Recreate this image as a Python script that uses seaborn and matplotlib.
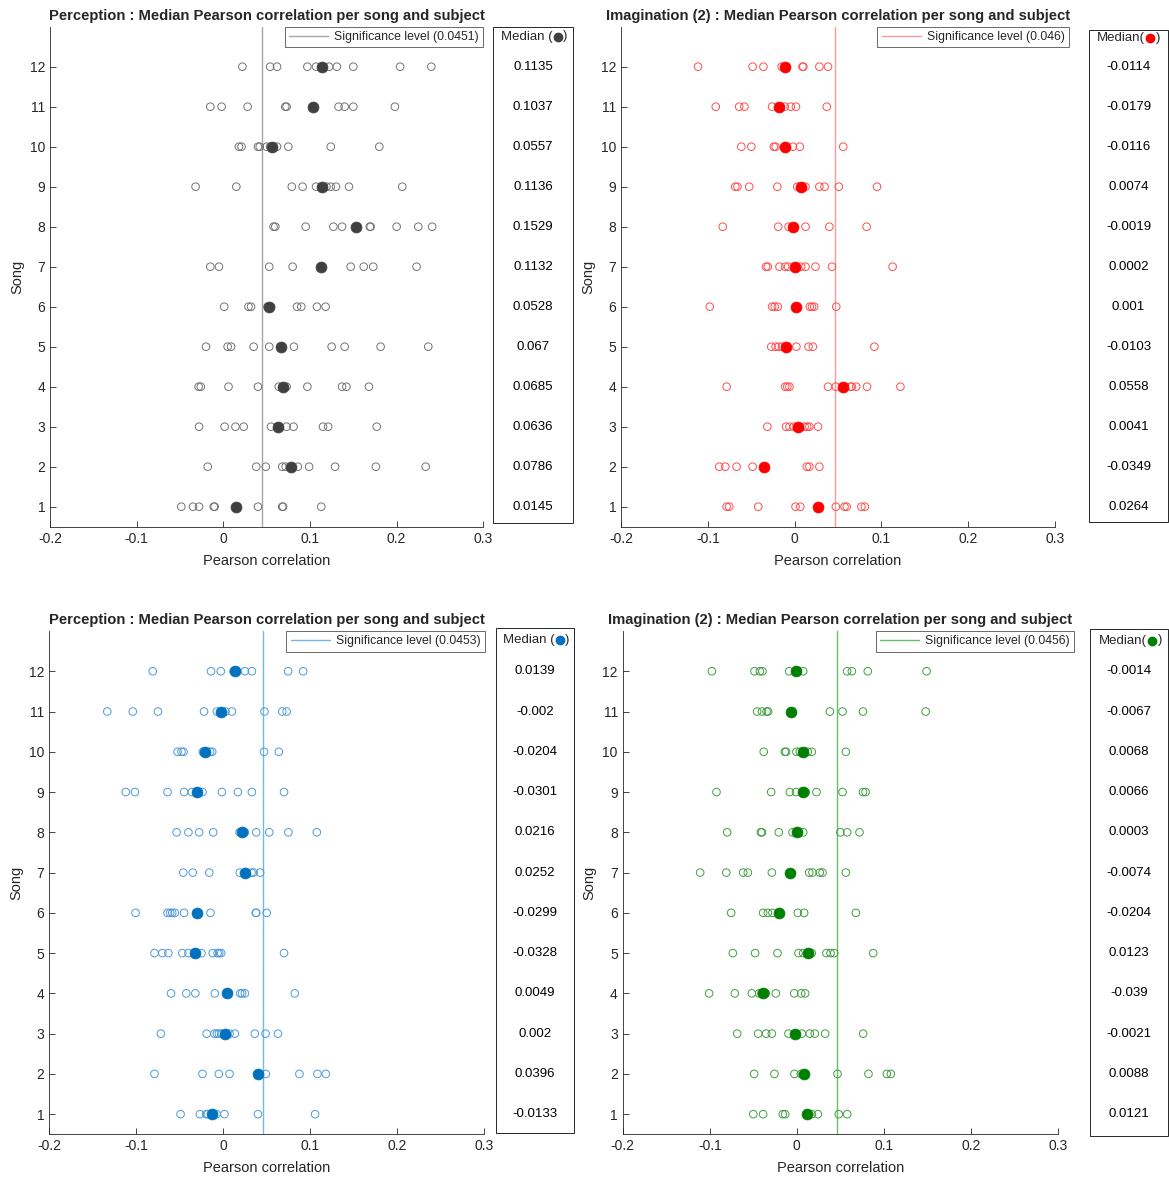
import pandas as pd
import seaborn as sns
import matplotlib
matplotlib.use("Agg")
from matplotlib import pyplot as plt
from matplotlib.transforms import blended_transform_factory
from matplotlib.patches import Rectangle
from matplotlib.lines import Line2D

songs = list(range(1, 13))

# subject correlations per song (song 1 .. 12)
perc_a_subjects = [
    [-0.0485, -0.035, -0.028, -0.011, -0.010, 0.040, 0.068, 0.069, 0.113],
    [-0.018, 0.038, 0.049, 0.068, 0.072, 0.086, 0.099, 0.129, 0.176, 0.2335],
    [-0.028, 0.0015, 0.014, 0.0235, 0.055, 0.073, 0.081, 0.115, 0.121, 0.177],
    [-0.0285, -0.026, 0.006, 0.040, 0.064, 0.073, 0.097, 0.137, 0.142, 0.168],
    [-0.020, 0.005, 0.009, 0.035, 0.053, 0.0815, 0.125, 0.140, 0.1815, 0.2365],
    [0.001, 0.029, 0.032, 0.051, 0.055, 0.085, 0.090, 0.108, 0.118],
    [-0.015, -0.005, 0.053, 0.080, 0.147, 0.162, 0.173, 0.223],
    [0.058, 0.060, 0.095, 0.127, 0.137, 0.169, 0.170, 0.200, 0.225, 0.241],
    [-0.032, 0.015, 0.079, 0.0915, 0.107, 0.119, 0.124, 0.130, 0.145, 0.2065],
    [0.018, 0.021, 0.040, 0.042, 0.050, 0.054, 0.062, 0.075, 0.124, 0.180],
    [-0.015, -0.002, 0.028, 0.0715, 0.073, 0.133, 0.140, 0.150, 0.198],
    [0.022, 0.054, 0.062, 0.097, 0.107, 0.122, 0.131, 0.150, 0.204, 0.240],
]
perc_a_medians = [0.0145, 0.0786, 0.0636, 0.0685, 0.067, 0.0528,
                  0.1132, 0.1529, 0.1136, 0.0557, 0.1037, 0.1135]
perc_a_sig = 0.0451

imag_a_subjects = [
    [-0.0785, -0.0755, -0.042, 0.001, 0.0065, 0.0475, 0.0575, 0.060, 0.077, 0.081],
    [-0.087, -0.080, -0.067, -0.0485, 0.014, 0.017, 0.0285],
    [-0.0315, -0.010, -0.006, -0.001, 0.0115, 0.0145, 0.017, 0.027],
    [-0.0785, -0.011, -0.0085, -0.006, 0.0385, 0.0475, 0.0645, 0.066, 0.071, 0.0835, 0.122],
    [-0.027, -0.022, -0.0185, -0.0145, 0.002, 0.016, 0.021, 0.092],
    [-0.098, -0.026, -0.023, -0.0195, 0.0175, 0.020, 0.0225, 0.048],
    [-0.033, -0.031, -0.0175, -0.011, -0.0075, 0.0075, 0.0125, 0.024, 0.043, 0.113],
    [-0.083, -0.019, -0.007, 0.0125, 0.040, 0.083],
    [-0.0685, -0.066, -0.0525, -0.020, 0.003, 0.0125, 0.0285, 0.0345, 0.051, 0.095],
    [-0.0615, -0.050, -0.024, -0.022, -0.002, 0.006, 0.056],
    [-0.091, -0.064, -0.058, -0.026, -0.0115, -0.0045, 0.0015, 0.037],
    [-0.1115, -0.0485, -0.036, -0.015, 0.009, 0.010, 0.0285, 0.0385],
]
imag_a_medians = [0.0264, -0.0349, 0.0041, 0.0558, -0.0103, 0.001,
                  0.0002, -0.0019, 0.0074, -0.0116, -0.0179, -0.0114]
imag_a_sig = 0.046

perc_b_subjects = [
    [-0.049, -0.0268, -0.0195, -0.0176, -0.0077, 0.0015, 0.040, 0.1057],
    [-0.079, -0.0238, -0.005, 0.0073, 0.049, 0.0877, 0.1084, 0.118],
    [-0.0716, -0.019, -0.010, -0.0073, -0.005, -0.0023, 0.0073, 0.0134, 0.0364, 0.0487, 0.063],
    [-0.060, -0.0425, -0.032, -0.0096, 0.0195, 0.0218, 0.025, 0.0824],
    [-0.079, -0.070, -0.063, -0.047, -0.040, -0.0249, -0.012, -0.0065, -0.0046, -0.0023, 0.070],
    [-0.1008, -0.064, -0.061, -0.0586, -0.0556, -0.045, -0.0146, 0.0375, 0.038, 0.050],
    [-0.046, -0.035, -0.016, 0.019, 0.0326, 0.035, 0.0425],
    [-0.0536, -0.040, -0.0276, -0.0115, 0.0188, 0.025, 0.038, 0.053, 0.075, 0.1077],
    [-0.112, -0.1015, -0.064, -0.045, -0.036, -0.0238, -0.0015, 0.0169, 0.033, 0.070],
    [-0.0525, -0.048, -0.0456, -0.0234, -0.015, -0.0126, 0.047, 0.064],
    [-0.1333, -0.104, -0.075, -0.022, -0.0073, 0.0027, 0.010, 0.0475, 0.068, 0.073],
    [-0.081, -0.014, -0.0027, 0.012, 0.025, 0.033, 0.0747, 0.092],
]
perc_b_medians = [-0.0133, 0.0396, 0.002, 0.0049, -0.0328, -0.0299,
                  0.0252, 0.0216, -0.0301, -0.0204, -0.002, 0.0139]
perc_b_sig = 0.0453

imag_b_subjects = [
    [-0.050, -0.0387, -0.0161, -0.0134, 0.0172, 0.0241, 0.0482, 0.0578],
    [-0.049, -0.0257, -0.0027, 0.0046, 0.0467, 0.0823, 0.1034, 0.108],
    [-0.0685, -0.0444, -0.0352, -0.0287, -0.0096, 0.0057, 0.0149, 0.0207, 0.0325, 0.0762],
    [-0.1007, -0.0712, -0.0517, -0.0433, -0.0406, -0.0356, -0.0241, -0.003, 0.005, 0.0096],
    [-0.0735, -0.0479, -0.0222, 0.0019, 0.0073, 0.0172, 0.034, 0.0387, 0.0429, 0.0877],
    [-0.0754, -0.0387, -0.0333, -0.028, 0.0011, 0.0084, 0.0678],
    [-0.111, -0.081, -0.0616, -0.0563, -0.0287, 0.0142, 0.018, 0.0264, 0.0295, 0.0563],
    [-0.080, -0.0413, -0.040, -0.0207, -0.005, 0.0073, 0.050, 0.0578, 0.072],
    [-0.0923, -0.0295, -0.008, -0.001, 0.0103, 0.0226, 0.0525, 0.076, 0.079],
    [-0.038, -0.0138, -0.0123, -0.0004, 0.0034, 0.0126, 0.0172, 0.0563],
    [-0.0456, -0.040, -0.0348, -0.033, 0.038, 0.0525, 0.076, 0.148],
    [-0.0976, -0.0486, -0.0425, -0.0395, -0.0088, 0.0073, 0.0578, 0.0632, 0.0815, 0.149],
]
imag_b_medians = [0.0121, 0.0088, -0.0021, -0.039, 0.0123, -0.0204,
                  -0.0074, 0.0003, 0.0066, 0.0068, -0.0067, -0.0014]
imag_b_sig = 0.0456

xticks = [-0.2, -0.1, 0, 0.1, 0.2, 0.3]
xtick_labels = ["-0.2", "-0.1", "0", "0.1", "0.2", "0.3"]

sns.set_style("ticks", {"xtick.direction": "in", "ytick.direction": "in"})
plt.rcParams["font.family"] = ["Liberation Sans", "DejaVu Sans"]

W, H = 1169, 1180
fig = plt.figure(figsize=(W / 100, H / 100), dpi=100)


def frac(x0, x1, y0, y1):
    return [x0 / W, 1 - y1 / H, (x1 - x0) / W, (y1 - y0) / H]


def to_long(points):
    rows = [(s, v) for s, vals in zip(songs, points) for v in vals]
    return pd.DataFrame(rows, columns=["Song", "corr"])


panels = [
    dict(title="Perception : Median Pearson correlation per song and subject",
         subj=perc_a_subjects, med=perc_a_medians, sig=perc_a_sig,
         c_open=(0.45, 0.45, 0.45), c_fill=(0.25, 0.25, 0.25), c_line=(0.65, 0.65, 0.65),
         ax=(50, 483.3, 26.7, 526.7), box=(493, 573, 27, 523), leg_x=1.0,
         head="Median (", head_x=501, head_y=37),
    dict(title="Imagination (2) : Median Pearson correlation per song and subject",
         subj=imag_a_subjects, med=imag_a_medians, sig=imag_a_sig,
         c_open=(1.0, 0.3, 0.3), c_fill=(1.0, 0.0, 0.0), c_line=(1.0, 0.6, 0.6),
         ax=(621.3, 1054.7, 26.7, 526.7), box=(1089, 1168, 30, 522), leg_x=1.033,
         head="Median(", head_x=1097, head_y=38),
    dict(title="Perception : Median Pearson correlation per song and subject",
         subj=perc_b_subjects, med=perc_b_medians, sig=perc_b_sig,
         c_open=(0.3, 0.6, 0.85), c_fill=(0.0, 0.447, 0.741), c_line=(0.45, 0.72, 0.92),
         ax=(49.3, 484, 631, 1134.3), box=(496, 574, 628, 1133), leg_x=1.002,
         head="Median (", head_x=503, head_y=640),
    dict(title="Imagination (2) : Median Pearson correlation per song and subject",
         subj=imag_b_subjects, med=imag_b_medians, sig=imag_b_sig,
         c_open=(0.25, 0.62, 0.25), c_fill=(0.0, 0.5, 0.0), c_line=(0.4, 0.75, 0.4),
         ax=(622.7, 1058, 631, 1134.3), box=(1090, 1168, 629, 1136), leg_x=1.037,
         head="Median(", head_x=1099, head_y=641),
]

dark = (0.15, 0.15, 0.15)
headers = []

for p in panels:
    ax = fig.add_axes(frac(*p["ax"]))
    df = to_long(p["subj"])
    sns.scatterplot(data=df, x="corr", y="Song", ax=ax, s=30, facecolor="none",
                    edgecolor=p["c_open"], linewidth=0.7, zorder=3, legend=False)
    mdf = pd.DataFrame({"Song": songs, "corr": p["med"]})
    sns.scatterplot(data=mdf, x="corr", y="Song", ax=ax, s=62, color=p["c_fill"],
                    edgecolor=p["c_fill"], linewidth=0.5, zorder=4, legend=False)
    ax.axvline(p["sig"], color=p["c_line"], lw=1.0, zorder=2)

    ax.set_xlim(-0.2, 0.3)
    ax.set_ylim(0.5, 13)
    ax.set_xticks(xticks)
    ax.set_xticklabels(xtick_labels)
    ax.set_yticks(songs)
    ax.tick_params(labelsize=10, colors=dark, length=4, width=0.6, direction="in")
    for side in ["left", "bottom"]:
        ax.spines[side].set_color(dark)
        ax.spines[side].set_linewidth(0.6)
    sns.despine(ax=ax)
    ax.set_xlabel("Pearson correlation", fontsize=10.5, color=dark, labelpad=6)
    ax.set_ylabel("Song", fontsize=10.5, color=dark, labelpad=4)
    ax.set_title(p["title"], fontsize=10.6, fontweight="bold", pad=5)

    handle = Line2D([], [], color=p["c_line"], lw=1.0)
    leg = ax.legend([handle], [f"Significance level ({p['sig']:g})"], loc="upper right",
                    bbox_to_anchor=(p["leg_x"], 1.0), borderaxespad=0, frameon=True,
                    fancybox=False, edgecolor=dark, fontsize=8.8, handlelength=3.2,
                    borderpad=0.35, handletextpad=0.5)
    leg.get_frame().set_linewidth(0.6)

    # median box to the right of the axes
    bx0, bx1, by0, by1 = p["box"]
    fig.add_artist(Rectangle((bx0 / W, 1 - by1 / H), (bx1 - bx0) / W, (by1 - by0) / H,
                             transform=fig.transFigure, fill=False, ec=dark, lw=0.7))
    trans = blended_transform_factory(fig.transFigure, ax.transData)
    xc = (bx0 + bx1) / 2 / W
    for s, m in zip(songs, p["med"]):
        ax.text(xc, s, f"{m:g}", transform=trans, ha="center", va="center",
                fontsize=9.5, color="black", clip_on=False)

    t1 = fig.text(p["head_x"] / W, 1 - p["head_y"] / H, p["head"], fontsize=9.5,
                  va="center", ha="left")
    headers.append((t1, p["c_fill"]))

# coloured dot inside "Median (●)", placed after measuring the text
fig.canvas.draw()
for t1, col in headers:
    bb = t1.get_window_extent()
    xd = bb.x1 + 5
    yd = (bb.y0 + bb.y1) / 2 + 0.5
    fig.add_artist(Line2D([xd / W], [yd / H], marker="o", ms=6, color=col,
                          mec=col, transform=fig.transFigure))
    fig.text((xd + 5.5) / W, yd / H, ")", fontsize=9.5, va="center", ha="left")

plt.savefig("out.png", dpi=100)
